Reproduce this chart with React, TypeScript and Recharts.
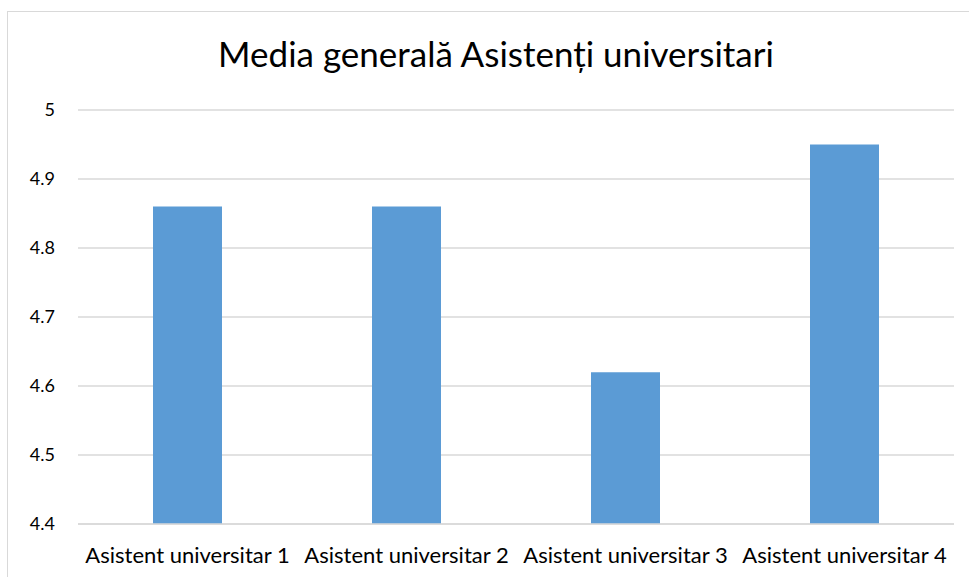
import React from 'react';
import { BarChart, Bar, XAxis, YAxis, CartesianGrid } from 'recharts';

const categories = ['Asistent universitar 1', 'Asistent universitar 2', 'Asistent universitar 3', 'Asistent universitar 4'];
const media = [4.86, 4.86, 4.62, 4.95];
const yTicks = [4.4, 4.5, 4.6, 4.7, 4.8, 4.9, 5];

const data = categories.map((name, i) => ({ name, media: media[i] }));

const font = 'Lato, "Open Sans", sans-serif';

const App: React.FC = () => {
    return (
        <div style={{ position: 'absolute', left: 0, top: 0, width: 969, height: 577, overflow: 'hidden', background: '#fff' }}>
            {/* chart area frame, cut off at right and bottom like the original */}
            <div style={{ position: 'absolute', left: 7, top: 11, width: 980, height: 600, border: '1.5px solid #D9D9D9' }} />
            <div
                style={{
                    position: 'absolute',
                    left: 7,
                    width: 978,
                    top: 36,
                    textAlign: 'center',
                    fontFamily: font,
                    fontSize: 35,
                    lineHeight: '35px',
                    color: '#000',
                }}
            >
                Media generală Asistenți universitari
            </div>
            <div style={{ position: 'absolute', left: 0, top: 0 }}>
                <BarChart
                    width={969}
                    height={577}
                    data={data}
                    margin={{ top: 110, right: 15, bottom: 23, left: 8 }}
                    barSize={69}
                >
                    <CartesianGrid vertical={false} stroke="#D9D9D9" strokeWidth={1.5} />
                    <XAxis
                        dataKey="name"
                        height={30}
                        axisLine={{ stroke: '#D9D9D9', strokeWidth: 1.5 }}
                        tickLine={false}
                        tickSize={0}
                        tickMargin={23}
                        interval={0}
                        tick={{ fill: '#000', fontSize: 22, fontFamily: font }}
                    />
                    <YAxis
                        width={70}
                        domain={[4.4, 5]}
                        ticks={yTicks}
                        axisLine={false}
                        tickLine={false}
                        tickSize={0}
                        tickMargin={23}
                        tick={{ fill: '#000', fontSize: 18, fontFamily: font }}
                    />
                    <Bar dataKey="media" fill="#5B9BD5" isAnimationActive={false} />
                </BarChart>
            </div>
        </div>
    );
};

export default App;
